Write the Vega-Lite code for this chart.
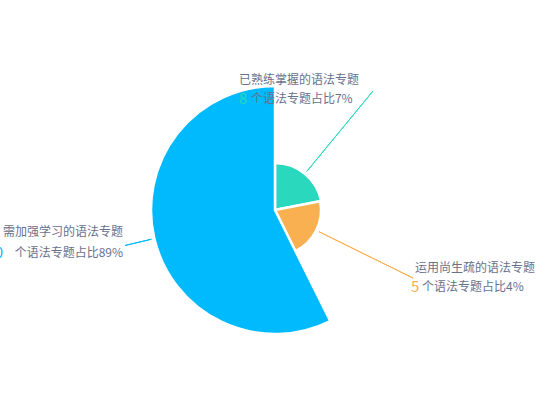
{
  "$schema": "https://vega.github.io/schema/vega-lite/v6.json",
  "width": 550,
  "height": 420,
  "autosize": {"type": "none"},
  "padding": 0,
  "background": "#ffffff",
  "view": {"stroke": null},
  "data": {
    "values": [
      {"rank": 1, "name": "已熟练掌握的语法专题", "count": 8, "desc": "个语法专题占比7%"},
      {"rank": 2, "name": "运用尚生疏的语法专题", "count": 5, "desc": "个语法专题占比4%"},
      {"rank": 3, "name": "需加强学习的语法专题", "count": 100, "desc": "个语法专题占比89%"}
    ]
  },
  "encoding": {
    "theta": {
      "field": "count",
      "type": "quantitative",
      "stack": true,
      "scale": {"type": "linear", "domain": [0, 8, 13, 113], "range": [0, 1.378, 2.68, 6.2832]}
    },
    "order": {"field": "rank", "type": "quantitative"},
    "color": {
      "field": "name",
      "type": "nominal",
      "scale": {
        "domain": ["已熟练掌握的语法专题", "运用尚生疏的语法专题", "需加强学习的语法专题"],
        "range": ["#29d8bd", "#f8b051", "#00bafe"]
      },
      "legend": null
    }
  },
  "resolve": {"scale": {"theta": "independent"}},
  "layer": [
    {
      "mark": {"type": "arc", "filled": false, "strokeWidth": 1, "padAngle": 3.1416, "radius2": 154, "radiusOffset": 3},
      "encoding": {
        "theta": {
          "field": "count",
          "type": "quantitative",
          "stack": true,
          "scale": {"type": "linear", "domain": [0, 8, 13, 113], "range": [0.32, 1.058, 3.0, 5.96]}
        },
        "radius": {"field": "count", "type": "quantitative", "scale": {"type": "linear", "zero": false, "domain": [0, 5, 8, 100], "range": [0, 46, 47, 124]}}
      }
    },
    {
      "mark": {"type": "arc", "stroke": "#ffffff", "strokeWidth": 2.5, "radius2": 0},
      "encoding": {
        "radius": {"field": "count", "type": "quantitative", "scale": {"type": "linear", "zero": false, "domain": [0, 5, 8, 100], "range": [0, 46, 47, 124]}}
      }
    },
    {
      "mark": {
        "type": "text",
        "radius": 154,
        "font": "Noto Sans CJK SC",
        "fontSize": 12,
        "baseline": "middle",
        "align": {"expr": "datum.rank == 3 ? 'right' : 'left'"},
        "dx": {"expr": "datum.rank == 1 ? -134 : datum.rank == 2 ? 2 : -2"},
        "dy": {"expr": "datum.rank == 1 ? -11 : datum.rank == 2 ? -10 : -13"}
      },
      "encoding": {
        "text": {"field": "name", "type": "nominal"},
        "color": {"value": "#67718c"}
      }
    },
    {
      "mark": {
        "type": "text",
        "radius": 154,
        "font": "Noto Sans CJK SC",
        "fontSize": 15,
        "baseline": "middle",
        "align": {"expr": "datum.rank == 3 ? 'right' : 'left'"},
        "dx": {"expr": "datum.rank == 1 ? -134 : datum.rank == 2 ? -2 : -122"},
        "dy": {"expr": "datum.rank == 1 ? 8 : datum.rank == 2 ? 9 : 8"}
      },
      "encoding": {
        "text": {"field": "count", "type": "quantitative", "format": "d"}
      }
    },
    {
      "mark": {
        "type": "text",
        "radius": 154,
        "font": "Noto Sans CJK SC",
        "fontSize": 12,
        "baseline": "middle",
        "align": {"expr": "datum.rank == 3 ? 'right' : 'left'"},
        "dx": {"expr": "datum.rank == 1 ? -122 : datum.rank == 2 ? 9 : -2"},
        "dy": {"expr": "datum.rank == 1 ? 8 : datum.rank == 2 ? 9 : 8"}
      },
      "encoding": {
        "text": {"field": "desc", "type": "nominal"},
        "color": {"value": "#67718c"}
      }
    }
  ]
}
